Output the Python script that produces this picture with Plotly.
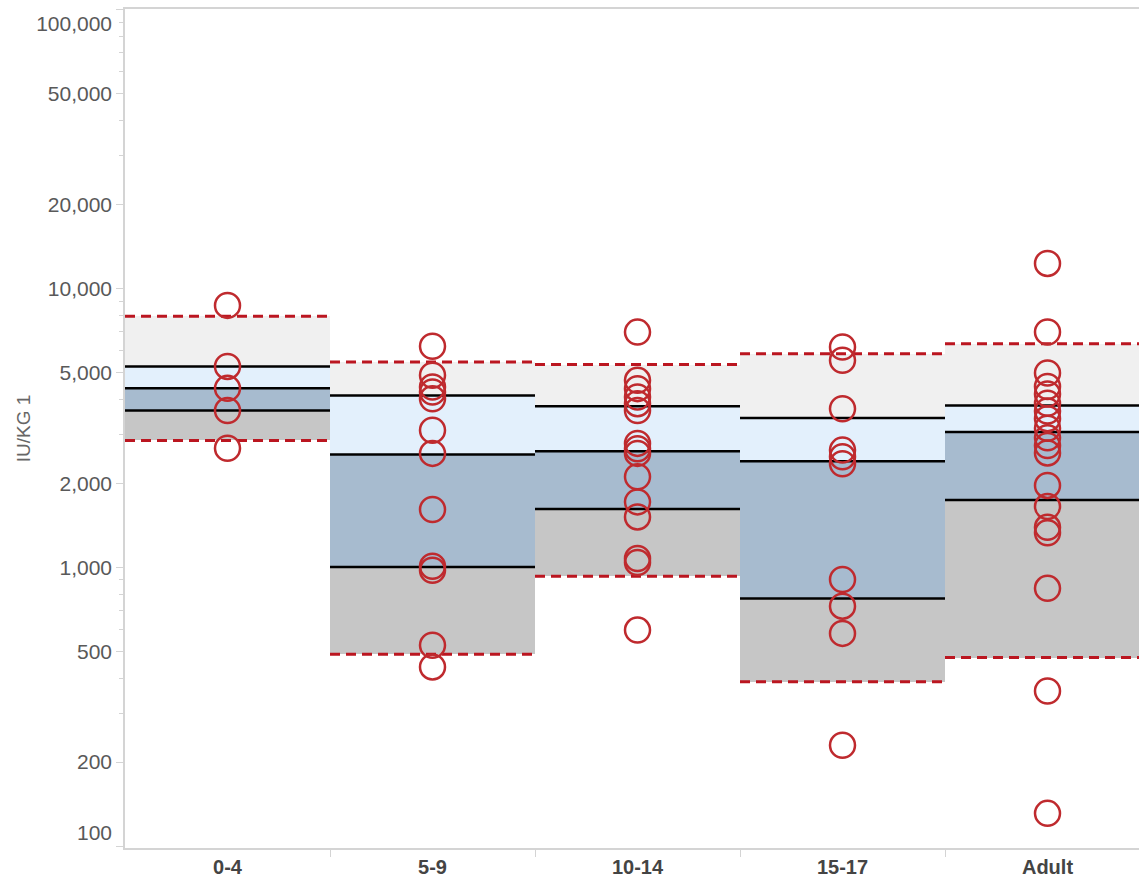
import plotly.graph_objects as go

# ---- data ----
categories = ["0-4", "5-9", "10-14", "15-17", "Adult"]

upper_ref = [7940, 5440, 5330, 5830, 6330]     # red dashed (upper)
q3 = [5250, 4125, 3776, 3428, 3805]            # top black line
median = [4380, 2535, 2605, 2398, 3052]        # middle black line
q1 = [3650, 1002, 1618, 772, 1743]             # bottom black line
lower_ref = [2850, 487, 928, 388, 474]         # red dashed (lower)

points_0_4 = [8690, 5250, 4380, 3650, 2670]
points_5_9 = [6200, 4880, 4430, 4250, 4020, 3100, 2560, 1610, 1008, 975, 525, 439]
points_10_14 = [6970, 4680, 4370, 4080, 3860, 3650, 2780, 2660, 2560, 2110, 1715,
                1515, 1075, 1040, 595]
points_15_17 = [6160, 5520, 3700, 2630, 2490, 2350, 903, 725, 579, 230]
points_adult = [12290, 6980, 4970, 4450, 4180, 3870, 3630, 3410, 3150, 2910, 2730,
                2570, 1965, 1650, 1390, 1330, 840, 360, 131]
points = [points_0_4, points_5_9, points_10_14, points_15_17, points_adult]

y_tick_vals = [100, 200, 500, 1000, 2000, 5000, 10000, 20000, 50000, 100000]
y_tick_text = ["100<br> ", "200", "500", "1,000", "2,000", "5,000", "10,000", "20,000",
               "50,000", "<br>100,000"]
y_minor_vals = [m * d for d in (100, 1000, 10000) for m in (3, 4, 6, 7, 8, 9)]

# ---- styling ----
C_UPPER = "#f0f0f0"
C_LIGHTBLUE = "#e3f0fc"
C_STEEL = "#a7bbcf"
C_GRAY = "#c6c6c6"
C_RED_LINE = "#bb1620"
C_RED_MARK = "#bf2a2e"
AXIS_GRAY = "#d4d4d4"
FONT = "Liberation Sans, Arial, sans-serif"

idx = list(range(len(categories)))
fig = go.Figure()


def band(lo, hi, color):
    fig.add_trace(go.Bar(
        x=idx, base=lo, y=[h - l for h, l in zip(hi, lo)],
        width=1, marker=dict(color=color, line=dict(width=0)),
        showlegend=False, hoverinfo="skip"))


band(q3, upper_ref, C_UPPER)
band(median, q3, C_LIGHTBLUE)
band(q1, median, C_STEEL)
band(lower_ref, q1, C_GRAY)


def hlines(vals, color, width, dash):
    xs, ys = [], []
    for i, v in zip(idx, vals):
        xs += [i - 0.5, i + 0.5, None]
        ys += [v, v, None]
    fig.add_trace(go.Scatter(x=xs, y=ys, mode="lines",
                             line=dict(color=color, width=width, dash=dash),
                             showlegend=False, hoverinfo="skip"))


for arr in (q3, median, q1):
    hlines(arr, "#000000", 2.5, "solid")
for arr in (upper_ref, lower_ref):
    hlines(arr, C_RED_LINE, 3, "10px,6px")

px, py = [], []
for i, pts in zip(idx, points):
    px += [i] * len(pts)
    py += pts
fig.add_trace(go.Scatter(
    x=px, y=py, mode="markers",
    marker=dict(symbol="circle-open", size=25, color=C_RED_MARK,
                line=dict(width=2.5, color=C_RED_MARK)),
    showlegend=False, hoverinfo="skip"))

W, H = 1139, 878
L, T, B = 125, 9, 30
cat_px = 205
x_hi = -0.5 + (W - L) / cat_px

fig.update_layout(
    width=W, height=H,
    margin=dict(l=L, r=0, t=T, b=B, autoexpand=False),
    paper_bgcolor="white", plot_bgcolor="white",
    barmode="overlay", bargap=0,
    hovermode=False,
    font=dict(family=FONT, color="#555555"),
    xaxis=dict(
        range=[-0.5, x_hi], automargin=False,
        tickmode="array", tickvals=idx, ticktext=categories,
        tickfont=dict(size=20, color="#444444", family=FONT, weight="bold"),
        ticks="", showgrid=False, zeroline=False,
        showline=True, linecolor=AXIS_GRAY, linewidth=1.5, mirror=True,
        minor=dict(tickmode="array", tickvals=[0.5, 1.5, 2.5, 3.5],
                   ticks="outside", ticklen=7, tickcolor=AXIS_GRAY, showgrid=False),
    ),
    yaxis=dict(
        type="log", range=[1.993, 5.002], automargin=False,
        tickmode="array", tickvals=y_tick_vals, ticktext=y_tick_text,
        tickfont=dict(size=21, color="#595959"),
        ticks="outside", ticklen=7, tickcolor=AXIS_GRAY, ticklabelstandoff=0,
        ticklabeloverflow="allow",
        showgrid=False, zeroline=False,
        showline=True, linecolor=AXIS_GRAY, linewidth=1.5,
        minor=dict(tickmode="array", tickvals=y_minor_vals,
                   ticks="outside", ticklen=4, tickcolor=AXIS_GRAY, showgrid=False),
        title=dict(text="IU/KG 1", font=dict(size=19, color="#666666"), standoff=0),
    ),
)

fig.write_html("out.html", config={"displayModeBar": False},
               post_script="document.body.style.margin='0';")
